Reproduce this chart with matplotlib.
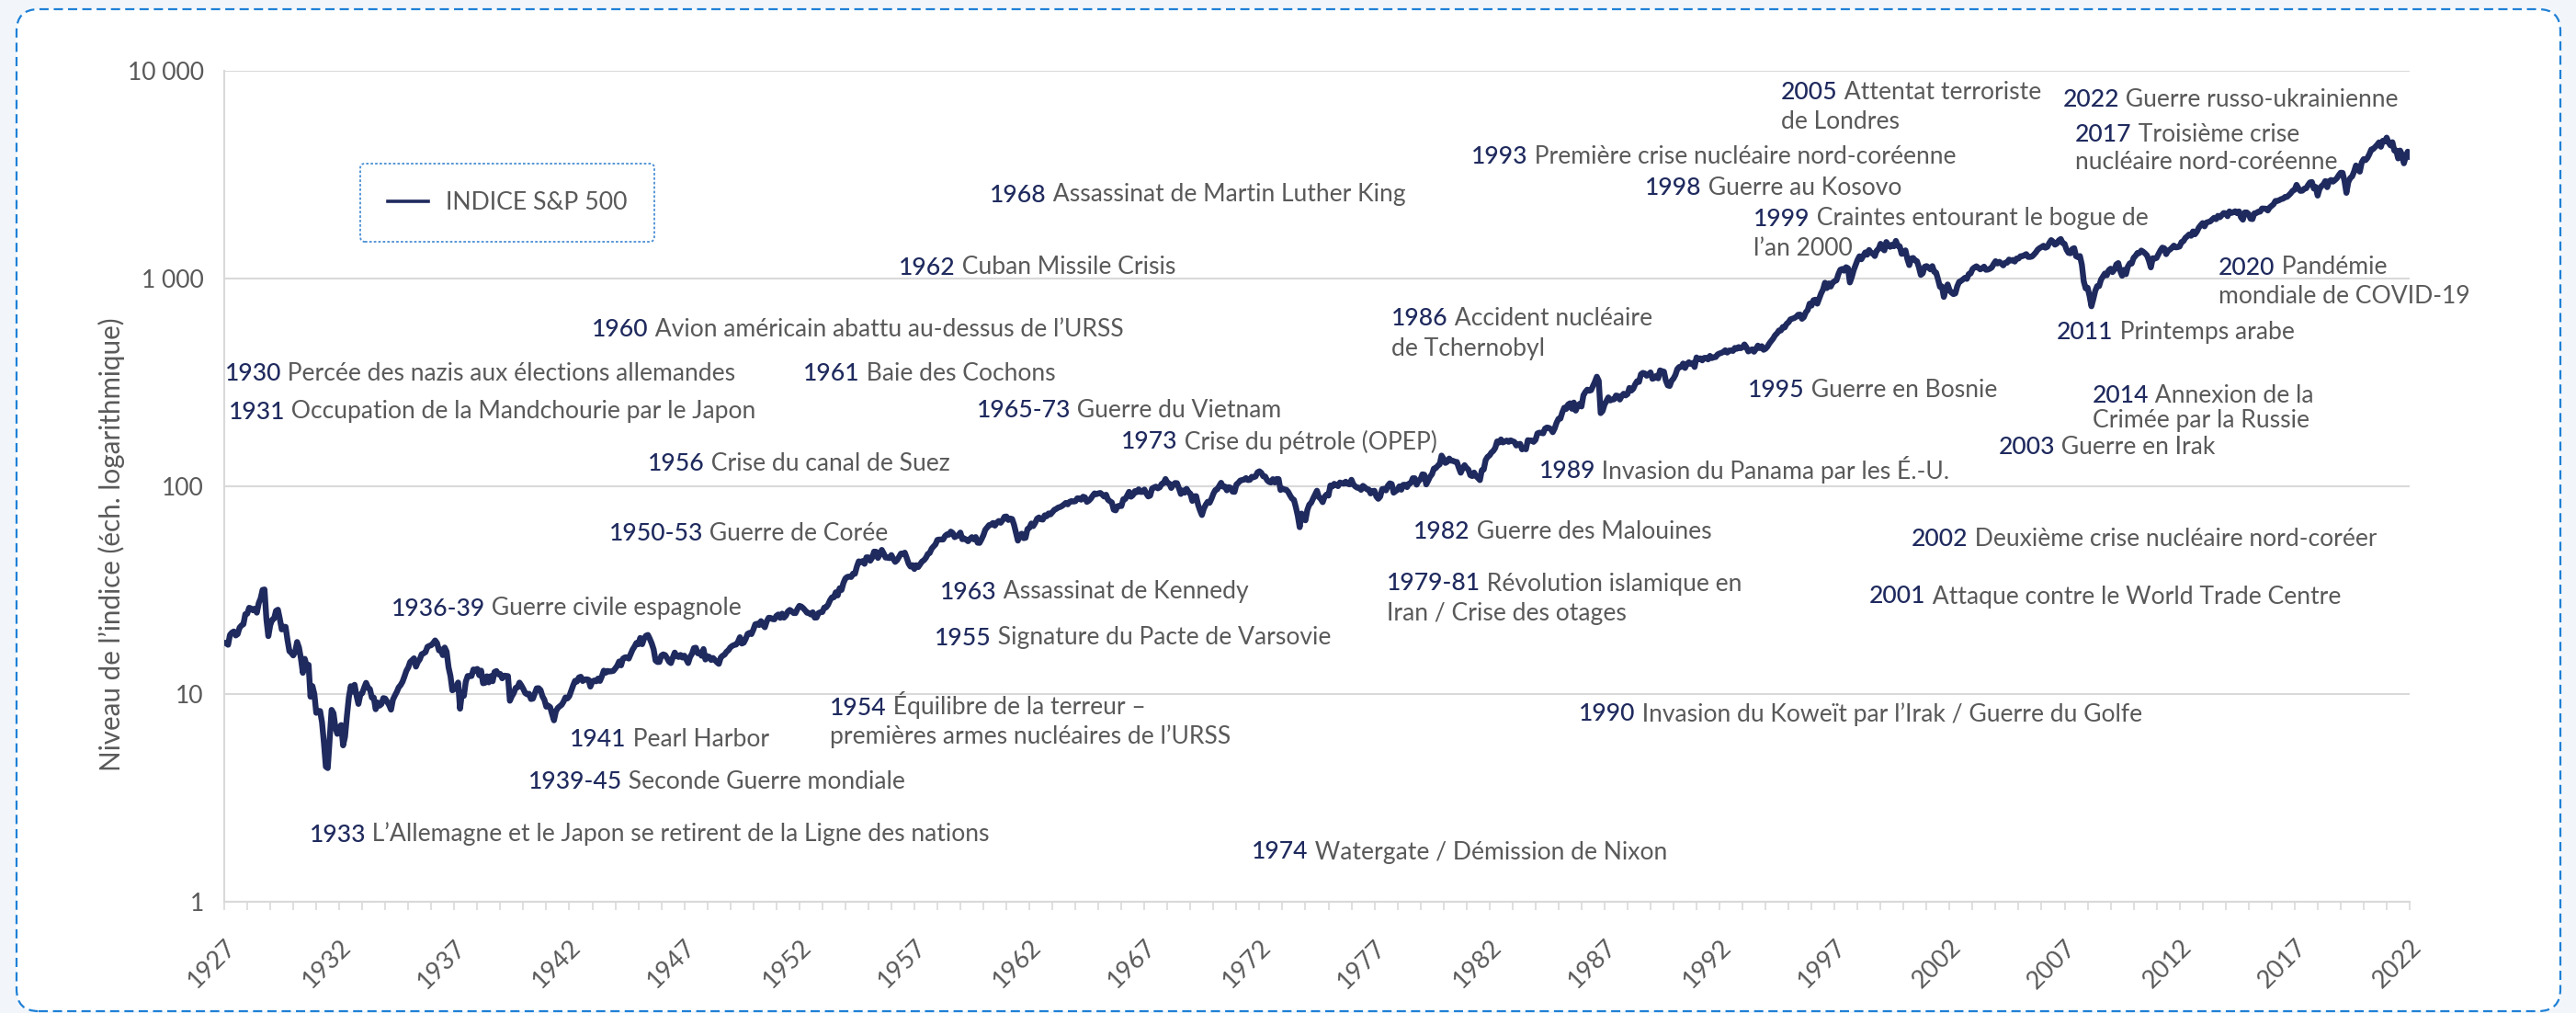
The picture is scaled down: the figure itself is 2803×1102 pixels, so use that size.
import numpy as np
import matplotlib
matplotlib.use("Agg")
import matplotlib.pyplot as plt
from matplotlib.patches import FancyBboxPatch
from matplotlib.lines import Line2D
from matplotlib.transforms import Bbox, IdentityTransform
from matplotlib.ticker import FixedLocator, FuncFormatter, NullLocator

# ---------------------------------------------------------------- data
series_name = "INDICE S&P 500"
start_value = 17.66          # last close of 1927
first_year = 1928
sp500_monthly = [
    [17.57, 17.26, 19.28, 19.75, 20.00, 19.14, 19.43, 20.87, 21.38, 21.68, 24.23, 24.35],
    [26.02, 25.80, 25.29, 25.76, 24.64, 27.40, 28.88, 31.71, 31.86, 22.90, 19.00, 21.45],
    [22.79, 23.07, 25.14, 25.46, 22.98, 20.46, 21.06, 21.06, 18.19, 16.08, 15.77, 15.34],
    [15.98, 17.80, 16.72, 14.83, 12.65, 14.77, 13.69, 13.82, 9.71, 10.92, 10.00, 8.12],
    [8.30, 8.28, 7.31, 5.83, 4.47, 4.40, 6.10, 8.39, 8.08, 6.88, 6.43, 6.89],
    [7.09, 5.66, 6.23, 7.84, 9.64, 10.91, 10.28, 11.08, 9.83, 8.96, 9.93, 10.10],
    [10.74, 11.32, 10.74, 10.55, 9.61, 9.61, 8.45, 9.10, 8.79, 8.95, 9.56, 9.50],
    [9.16, 8.85, 8.41, 9.40, 9.83, 10.23, 10.76, 11.04, 11.46, 12.14, 12.93, 13.43],
    [14.27, 14.55, 14.86, 13.55, 14.26, 14.69, 15.54, 15.70, 15.92, 16.87, 17.06, 17.18],
    [17.59, 18.11, 17.60, 16.23, 16.38, 15.39, 16.74, 15.99, 13.46, 12.22, 10.42, 10.55],
    [10.78, 11.36, 8.50, 10.11, 9.80, 11.47, 12.21, 12.20, 12.21, 13.13, 12.98, 13.21],
    [12.32, 12.96, 11.27, 11.32, 12.17, 11.38, 12.19, 11.52, 12.77, 12.90, 12.44, 12.49],
    [11.90, 12.26, 12.23, 12.20, 9.28, 9.75, 10.10, 10.70, 10.77, 11.35, 10.99, 10.58],
    [10.11, 9.97, 10.03, 9.46, 9.50, 10.05, 10.65, 10.67, 10.45, 9.75, 9.38, 8.69],
    [8.79, 8.65, 8.02, 7.47, 8.25, 8.57, 8.73, 8.87, 9.19, 9.63, 9.52, 9.77],
    [10.36, 11.00, 11.58, 11.48, 12.01, 12.11, 11.55, 11.74, 11.77, 11.72, 10.86, 11.48],
    [11.62, 11.51, 11.87, 11.56, 12.18, 12.96, 12.66, 12.92, 12.84, 12.87, 12.93, 13.28],
    [13.69, 14.34, 13.74, 14.80, 15.01, 15.03, 14.81, 15.56, 16.35, 16.91, 17.60, 17.36],
    [18.62, 17.37, 18.47, 19.08, 19.25, 18.43, 17.51, 16.39, 14.49, 14.26, 14.27, 15.30],
    [15.52, 15.39, 14.90, 14.33, 14.09, 14.99, 15.83, 15.23, 15.08, 15.42, 14.99, 15.30],
    [14.69, 14.10, 15.08, 15.62, 16.64, 16.71, 15.70, 15.84, 15.28, 16.46, 14.66, 15.20],
    [15.11, 14.59, 14.91, 14.57, 14.22, 13.97, 14.98, 15.29, 15.47, 15.97, 16.25, 16.76],
    [17.05, 17.22, 17.30, 17.85, 18.77, 17.50, 17.67, 18.42, 19.47, 19.70, 19.43, 20.41],
    [21.66, 21.80, 21.48, 22.43, 21.52, 20.96, 22.40, 23.28, 23.26, 22.94, 22.88, 23.77],
    [24.14, 23.26, 24.37, 23.32, 23.86, 24.96, 25.40, 25.03, 24.54, 24.52, 25.66, 26.57],
    [26.38, 25.90, 25.29, 24.62, 24.54, 24.14, 24.75, 23.32, 23.35, 24.54, 24.76, 24.81],
    [26.08, 26.15, 26.94, 28.26, 29.19, 29.21, 30.88, 29.83, 32.31, 31.68, 34.24, 35.98],
    [36.63, 36.76, 36.58, 37.96, 37.91, 41.03, 43.52, 43.18, 43.67, 42.34, 45.51, 45.48],
    [43.82, 45.34, 48.48, 48.38, 45.20, 46.97, 49.39, 47.51, 45.35, 45.58, 45.08, 46.67],
    [44.72, 43.26, 44.11, 45.74, 47.43, 47.37, 47.91, 45.22, 42.42, 41.06, 41.72, 39.99],
    [41.70, 40.84, 42.10, 43.44, 44.09, 45.24, 47.19, 47.75, 50.06, 51.33, 52.48, 55.21],
    [55.42, 55.41, 55.44, 57.59, 58.68, 58.47, 60.51, 59.60, 56.88, 57.52, 58.28, 59.89],
    [55.61, 56.12, 55.34, 54.37, 55.83, 56.92, 55.51, 56.96, 53.52, 53.39, 55.54, 58.11],
    [61.78, 63.44, 65.06, 65.31, 66.56, 64.64, 66.76, 68.07, 66.73, 68.62, 71.32, 71.55],
    [68.84, 69.96, 69.55, 65.24, 59.63, 54.75, 58.23, 59.12, 56.27, 56.52, 62.26, 63.10],
    [66.20, 64.29, 66.57, 69.80, 70.80, 69.37, 69.13, 72.50, 71.70, 74.01, 73.23, 75.02],
    [77.04, 77.80, 78.98, 79.46, 80.37, 81.69, 83.18, 81.83, 84.18, 84.86, 84.42, 84.75],
    [87.56, 87.43, 86.16, 89.11, 88.42, 84.12, 85.25, 87.17, 89.96, 92.42, 91.61, 92.43],
    [92.88, 91.22, 89.23, 91.06, 86.13, 84.74, 83.60, 77.10, 76.56, 80.20, 80.45, 80.33],
    [86.61, 86.78, 90.20, 94.01, 89.08, 90.64, 94.75, 93.64, 96.71, 93.90, 94.00, 96.47],
    [92.24, 89.36, 90.20, 97.59, 98.68, 99.58, 97.74, 98.86, 102.67, 103.41, 108.37, 103.86],
    [103.01, 98.13, 101.51, 103.69, 103.46, 97.71, 91.83, 95.51, 93.12, 97.24, 93.81, 92.06],
    [85.02, 89.50, 89.63, 81.52, 76.55, 72.72, 78.05, 81.52, 84.21, 83.25, 87.20, 92.15],
    [95.88, 96.75, 100.31, 103.95, 99.63, 99.70, 95.58, 99.03, 98.34, 94.23, 93.99, 102.09],
    [103.94, 106.57, 107.20, 107.67, 109.53, 107.14, 107.39, 111.09, 110.55, 111.58, 116.67, 118.05],
    [116.03, 111.68, 111.52, 106.97, 104.95, 104.26, 108.22, 104.25, 108.43, 108.29, 95.96, 97.55],
    [96.57, 96.22, 93.98, 90.31, 87.28, 86.00, 79.31, 72.15, 63.54, 73.90, 69.97, 68.56],
    [76.98, 81.59, 83.36, 87.30, 91.15, 95.19, 88.75, 86.88, 83.87, 89.04, 91.24, 90.19],
    [100.86, 99.71, 102.77, 101.64, 100.18, 104.28, 103.44, 102.91, 105.24, 102.90, 102.10, 107.46],
    [102.03, 99.82, 98.42, 98.44, 96.12, 100.48, 98.85, 96.77, 96.53, 92.34, 94.83, 95.10],
    [89.25, 87.04, 89.21, 96.83, 97.24, 95.53, 100.68, 103.29, 102.54, 93.15, 94.70, 96.11],
    [99.93, 96.28, 101.59, 101.76, 99.08, 102.91, 103.81, 109.32, 109.32, 101.82, 106.16, 107.94],
    [114.16, 113.66, 102.09, 106.29, 111.24, 114.24, 121.67, 122.38, 125.46, 127.47, 140.52, 135.76],
    [129.55, 131.27, 136.00, 132.81, 132.59, 131.21, 130.92, 122.79, 116.18, 121.89, 126.35, 122.55],
    [120.40, 113.11, 111.96, 116.44, 111.88, 109.61, 107.09, 119.51, 120.42, 133.71, 138.54, 140.64],
    [145.30, 148.06, 152.96, 164.42, 162.39, 168.11, 162.56, 164.40, 166.07, 163.55, 166.40, 164.93],
    [163.41, 157.06, 159.18, 160.05, 150.55, 153.18, 150.66, 166.68, 166.10, 166.09, 163.58, 167.24],
    [179.63, 181.18, 180.66, 179.83, 189.55, 191.85, 190.92, 188.63, 182.08, 189.82, 202.17, 211.28],
    [211.78, 226.92, 238.90, 235.52, 247.35, 250.84, 236.12, 252.93, 231.32, 243.98, 249.22, 242.17],
    [274.08, 284.20, 291.70, 288.36, 290.10, 304.00, 318.66, 336.77, 321.83, 225.00, 230.30, 247.08],
    [257.07, 267.82, 258.89, 261.33, 262.16, 273.50, 272.02, 261.52, 271.91, 278.97, 273.70, 277.72],
    [297.47, 288.86, 294.87, 309.64, 320.52, 317.98, 346.08, 351.45, 349.15, 340.36, 345.99, 353.40],
    [329.08, 331.89, 339.94, 330.80, 361.23, 358.02, 356.15, 322.56, 306.05, 304.00, 322.22, 330.22],
    [343.93, 367.07, 375.22, 375.34, 389.83, 371.16, 387.81, 395.43, 387.86, 392.46, 375.22, 417.09],
    [408.79, 412.70, 403.69, 414.95, 415.35, 408.14, 424.21, 414.03, 417.80, 418.68, 431.35, 435.71],
    [438.78, 443.38, 451.67, 440.19, 450.19, 450.53, 448.13, 463.56, 458.93, 467.83, 461.79, 466.45],
    [481.61, 467.14, 445.77, 450.91, 456.50, 444.27, 458.26, 475.49, 462.69, 472.35, 453.69, 459.27],
    [470.42, 487.39, 500.71, 514.71, 533.40, 544.75, 562.06, 561.88, 584.41, 581.50, 605.37, 615.93],
    [636.02, 640.43, 645.50, 654.17, 669.12, 670.63, 639.95, 651.99, 687.33, 705.27, 757.02, 740.74],
    [786.16, 790.82, 757.12, 801.34, 848.28, 885.14, 954.31, 899.47, 947.28, 914.62, 955.40, 970.43],
    [980.28, 1049.34, 1101.75, 1111.75, 1090.82, 1133.84, 1120.67, 957.28, 1017.01, 1098.67, 1163.63, 1229.23],
    [1279.64, 1238.33, 1286.37, 1335.18, 1301.84, 1372.71, 1328.72, 1320.41, 1282.71, 1362.93, 1388.91, 1469.25],
    [1394.46, 1366.42, 1498.58, 1452.43, 1420.60, 1454.60, 1430.83, 1517.68, 1436.51, 1429.40, 1314.95, 1320.28],
    [1366.01, 1239.94, 1160.33, 1249.46, 1255.82, 1224.42, 1211.23, 1133.58, 1040.94, 1059.78, 1139.45, 1148.08],
    [1130.20, 1106.73, 1147.39, 1076.92, 1067.14, 989.82, 911.62, 916.07, 815.28, 885.76, 936.31, 879.82],
    [855.70, 841.15, 848.18, 916.92, 963.59, 974.50, 990.31, 1008.01, 995.97, 1050.71, 1058.20, 1111.92],
    [1131.13, 1144.94, 1126.21, 1107.30, 1120.68, 1140.84, 1101.72, 1104.24, 1114.58, 1130.20, 1173.82, 1211.92],
    [1181.27, 1203.60, 1180.59, 1156.85, 1191.50, 1191.33, 1234.18, 1220.33, 1228.81, 1207.01, 1249.48, 1248.29],
    [1280.08, 1280.66, 1294.87, 1310.61, 1270.09, 1270.20, 1276.66, 1303.82, 1335.85, 1377.94, 1400.63, 1418.30],
    [1438.24, 1406.82, 1420.86, 1482.37, 1530.62, 1503.35, 1455.27, 1473.99, 1526.75, 1549.38, 1481.14, 1468.36],
    [1378.55, 1330.63, 1322.70, 1385.59, 1400.38, 1280.00, 1267.38, 1282.83, 1166.36, 968.75, 896.24, 903.25],
    [825.88, 735.09, 797.87, 872.81, 919.14, 919.32, 987.48, 1020.62, 1057.08, 1036.19, 1095.63, 1115.10],
    [1073.87, 1104.49, 1169.43, 1186.69, 1089.41, 1030.71, 1101.60, 1049.33, 1141.20, 1183.26, 1180.55, 1257.64],
    [1286.12, 1327.22, 1325.83, 1363.61, 1345.20, 1320.64, 1292.28, 1218.89, 1131.42, 1253.30, 1246.96, 1257.60],
    [1312.41, 1365.68, 1408.47, 1397.91, 1310.33, 1362.16, 1379.32, 1406.58, 1440.67, 1412.16, 1416.18, 1426.19],
    [1498.11, 1514.68, 1569.19, 1597.57, 1630.74, 1606.28, 1685.73, 1632.97, 1681.55, 1756.54, 1805.81, 1848.36],
    [1782.59, 1859.45, 1872.34, 1883.95, 1923.57, 1960.23, 1930.67, 2003.37, 1972.29, 2018.05, 2067.56, 2058.90],
    [1994.99, 2104.50, 2067.89, 2085.51, 2107.39, 2063.11, 2103.84, 1972.18, 1920.03, 2079.36, 2080.41, 2043.94],
    [1940.24, 1932.23, 2059.74, 2065.30, 2096.95, 2098.86, 2173.60, 2170.95, 2168.27, 2126.15, 2198.81, 2238.83],
    [2278.87, 2363.64, 2362.72, 2384.20, 2411.80, 2423.41, 2470.30, 2471.65, 2519.36, 2575.26, 2647.58, 2673.61],
    [2823.81, 2713.83, 2640.87, 2648.05, 2705.27, 2718.37, 2816.29, 2901.52, 2913.98, 2711.74, 2760.17, 2506.85],
    [2704.10, 2784.49, 2834.40, 2945.83, 2752.06, 2941.76, 2980.38, 2926.46, 2976.74, 3037.56, 3140.98, 3230.78],
    [3225.52, 2954.22, 2584.59, 2912.43, 3044.31, 3100.29, 3271.12, 3500.31, 3363.00, 3269.96, 3621.63, 3756.07],
    [3714.24, 3811.15, 3972.89, 4181.17, 4204.11, 4297.50, 4395.26, 4522.68, 4307.54, 4605.38, 4567.00, 4766.18],
    [4515.55, 4373.94, 4530.41, 4131.93, 4132.15, 3785.38, 4130.29, 3955.00, 3585.62, 3871.98, 4080.11, 3839.50],
]

x_tick_years = list(range(1927, 2023, 5))
y_tick_values = [1, 10, 100, 1000, 10000]
y_label = "Niveau de l’indice (éch. logarithmique)"

event_years = [
    "1930", "1931", "1960", "1961", "1956", "1962", "1968", "1993", "1998",
    "1986", "1965-73", "1973", "1989", "1950-53", "1936-39", "1941", "1939-45",
    "1933", "1954", "1963", "1955", "1982", "1979-81", "1974", "1990", "2005",
    "2022", "2017", "1999", "2020", "2011", "1995", "2014", "2003", "2002", "2001",
]
event_texts = [
    ["Percée des nazis aux élections allemandes"],
    ["Occupation de la Mandchourie par le Japon"],
    ["Avion américain abattu au-dessus de l’URSS"],
    ["Baie des Cochons"],
    ["Crise du canal de Suez"],
    ["Cuban Missile Crisis"],
    ["Assassinat de Martin Luther King"],
    ["Première crise nucléaire nord-coréenne"],
    ["Guerre au Kosovo"],
    ["Accident nucléaire", "de Tchernobyl"],
    ["Guerre du Vietnam"],
    ["Crise du pétrole (OPEP)"],
    ["Invasion du Panama par les É.-U."],
    ["Guerre de Corée"],
    ["Guerre civile espagnole"],
    ["Pearl Harbor"],
    ["Seconde Guerre mondiale"],
    ["L’Allemagne et le Japon se retirent de la Ligne des nations"],
    ["Équilibre de la terreur –", "premières armes nucléaires de l’URSS"],
    ["Assassinat de Kennedy"],
    ["Signature du Pacte de Varsovie"],
    ["Guerre des Malouines"],
    ["Révolution islamique en", "Iran / Crise des otages"],
    ["Watergate / Démission de Nixon"],
    ["Invasion du Koweït par l’Irak / Guerre du Golfe"],
    ["Attentat terroriste", "de Londres"],
    ["Guerre russo-ukrainienne"],
    ["Troisième crise", "nucléaire nord-coréenne"],
    ["Craintes entourant le bogue de", "l’an 2000"],
    ["Pandémie", "mondiale de COVID-19"],
    ["Printemps arabe"],
    ["Guerre en Bosnie"],
    ["Annexion de la", "Crimée par la Russie"],
    ["Guerre en Irak"],
    ["Deuxième crise nucléaire nord-coréenne"],
    ["Attaque contre le World Trade Centre"],
]

# ---------------------------------------------------------------- layout (pixels, from top-left)
event_layout = [
    (245, 404, 0), (249, 446, 0), (644, 356, 0), (874, 404, 0), (705, 502, 0),
    (978, 289, 0), (1077, 210, 0), (1601, 169, 0), (1790, 203, 0), (1514, 345, 32),
    (1063, 445, 0), (1220, 479, 0), (1675, 511, 0), (663, 579, 0), (426, 660, 0),
    (620, 803, 0), (575, 849, 0), (337, 906, 0), (903, 768, 31), (1023, 642, 0),
    (1017, 692, 0), (1538, 576, 0), (1509, 633, 32), (1362, 925, 0), (1718, 775, 0),
    (1938, 98, 32), (2245, 106, 0), (2258, 144, 31), (1908, 236, 32), (2414, 289, 31),
    (2238, 359, 0), (1902, 423, 0), (2277, 429, 26), (2175, 484, 0), (2080, 585, 0),
    (2034, 647, 0),
]
clipped_events = {"2002"}
clip_right = 2586

W, H, DPI = 2803, 1102, 100
NAVY = "#1f2a5e"
GREY = "#595959"
GRID = "#d9d9d9"
FONT = ["Lato", "DejaVu Sans"]
FS = 19.1
BASE = 9.5   # baseline below visual centre, px

plt.rcParams["font.family"] = FONT

values = np.array([start_value] + [v for row in sp500_monthly for v in row])
x = (first_year - 1) + np.arange(len(values)) / 12.0

fig = plt.figure(figsize=(W / DPI, H / DPI), dpi=DPI, facecolor="#f2f6fb")

# outer dashed rounded panel
panel = FancyBboxPatch((18, H - 1100), 2786 - 18, 1090,
                       boxstyle="round,pad=0,rounding_size=24",
                       transform=IdentityTransform(), facecolor="white",
                       edgecolor="#1f80d6", linewidth=1.6,
                       linestyle=(0, (4.5, 2.5)), zorder=0)
fig.patches.append(panel)

ax = fig.add_axes([244 / W, 1 - 981 / H, (2622 - 244) / W, (981 - 77) / H])
ax.set_facecolor("none")
ax.set_zorder(1)

line, = ax.plot(x, values, color=NAVY, lw=4.6, solid_joinstyle="round",
                solid_capstyle="round", zorder=3)

ax.set_yscale("log")
ax.set_ylim(1, 10000)
ax.set_xlim(1927, 2022)
ax.yaxis.set_major_locator(FixedLocator(y_tick_values))
ax.yaxis.set_minor_locator(NullLocator())
ax.yaxis.set_major_formatter(FuncFormatter(lambda v, p: f"{int(round(v)):,}".replace(",", " ")))
ax.tick_params(axis="y", length=0, pad=16, labelsize=FS, labelcolor=GREY)

ax.set_xticks(list(range(1927, 2023)))
ax.set_xticklabels([str(y) if y in x_tick_years else "" for y in range(1927, 2023)])
ax.xaxis.set_minor_locator(NullLocator())
ax.tick_params(axis="x", length=6.5, width=1.2, color=GRID, pad=20,
               labelsize=19.5, labelcolor=GREY)
for lab in ax.get_xticklabels():
    lab.set_rotation(45)
    lab.set_ha("right")
    lab.set_va("top")
    lab.set_rotation_mode("anchor")

ax.grid(axis="y", color=GRID, lw=1.5)
ax.set_axisbelow(True)
for s in ["top", "right"]:
    ax.spines[s].set_visible(False)
for s in ["left", "bottom"]:
    ax.spines[s].set_color(GRID)
    ax.spines[s].set_linewidth(1.5)

fig.text(121 / W, 1 - 592 / H, y_label, rotation=90, ha="center", va="center",
         color=GREY, fontsize=21.3)

# legend
handle = Line2D([], [], color=NAVY, lw=2.6)
leg = ax.legend([handle], [series_name], loc="upper left",
                bbox_to_anchor=(392 / W, 1 - 178 / H), bbox_transform=fig.transFigure,
                borderaxespad=0, borderpad=1.12, handlelength=1.65, handletextpad=0.72,
                fontsize=19.2, labelcolor=GREY, frameon=True, fancybox=True)
fr = leg.get_frame()
fr.set_linestyle((0, (1.5, 1.2)))
fr.set_edgecolor("#4a8fd4")
fr.set_linewidth(1.3)
fr.set_facecolor("white")
fr.set_alpha(1)

# event annotations
for yr, lines, (px, py, gap) in zip(event_years, event_texts, event_layout):
    yb = H - (py + BASE)
    t = fig.text(px / W, yb / H, yr, color=NAVY, fontsize=FS, fontweight="medium",
                 ha="left", va="baseline", zorder=5)
    a = ax.annotate(" " + lines[0], xy=(1, yb), xycoords=(t, "figure pixels"),
                    xytext=(0, 0), textcoords="offset points", ha="left", va="baseline",
                    color=GREY, fontsize=FS, annotation_clip=False, zorder=5)
    if yr in clipped_events:
        a.set_clip_box(Bbox([[0, 0], [clip_right, H]]))
        a.set_clip_on(True)
    if len(lines) > 1:
        yb2 = H - (py + gap + BASE)
        fig.text(px / W, yb2 / H, lines[1], color=GREY, fontsize=FS, ha="left",
                 va="baseline", zorder=5)

fig.savefig("out.png", dpi=DPI, facecolor=fig.get_facecolor())
